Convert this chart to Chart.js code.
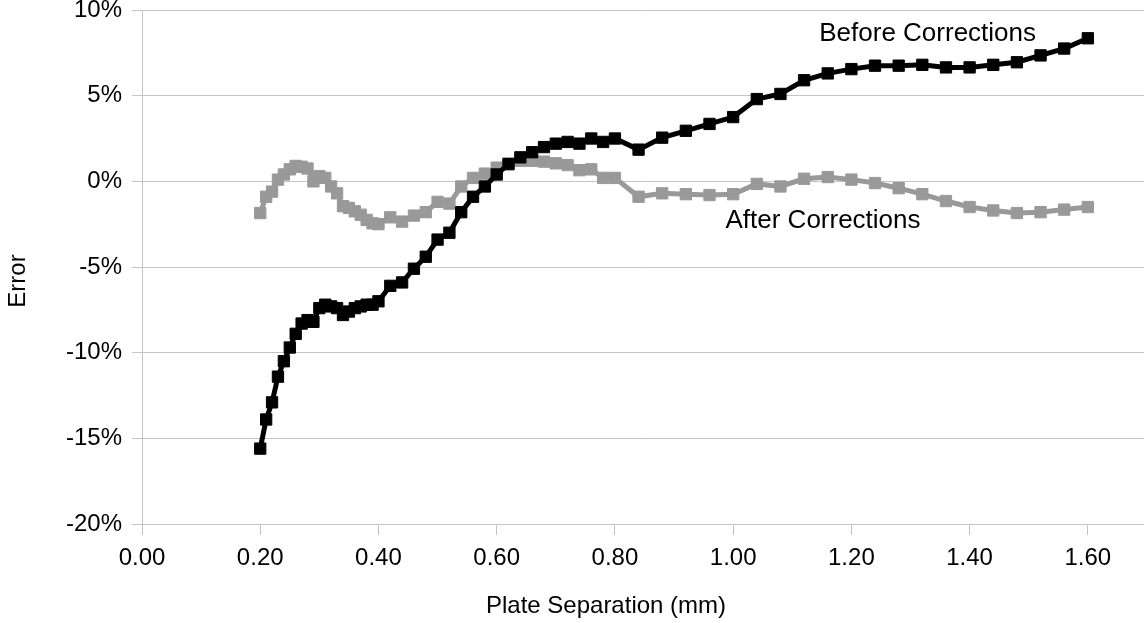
<!DOCTYPE html>
<html>
<head>
<meta charset="utf-8">
<title>Plate separation error</title>
<script src="https://cdn.jsdelivr.net/npm/chart.js@4/dist/chart.umd.min.js"></script>
<style>
  html, body { margin: 0; padding: 0; background: #fff; }
  #wrap { width: 1144px; height: 623px; }
</style>
</head>
<body>
<div id="wrap"><canvas id="errChart" width="1144" height="623"></canvas></div>
<script>
// plate separation (mm)
var separation = [
  0.20, 0.21, 0.22, 0.23, 0.24, 0.25, 0.26, 0.27, 0.28, 0.29,
  0.30, 0.31, 0.32, 0.33, 0.34, 0.35, 0.36, 0.37, 0.38, 0.39,
  0.40, 0.42, 0.44, 0.46, 0.48, 0.50, 0.52, 0.54, 0.56, 0.58,
  0.60, 0.62, 0.64, 0.66, 0.68, 0.70, 0.72, 0.74, 0.76, 0.78,
  0.80, 0.84, 0.88, 0.92, 0.96, 1.00, 1.04, 1.08, 1.12, 1.16,
  1.20, 1.24, 1.28, 1.32, 1.36, 1.40, 1.44, 1.48, 1.52, 1.56,
  1.60
];

// error in percent
var beforeCorr = [
  -15.6, -13.9, -12.9, -11.4, -10.5, -9.7, -8.9, -8.3, -8.1, -8.2,
  -7.4, -7.2, -7.3, -7.4, -7.8, -7.6, -7.4, -7.3, -7.2, -7.2,
  -7.0, -6.1, -5.9, -5.1, -4.4, -3.4, -3.0, -1.8, -0.9, -0.3,
  0.4, 1.0, 1.4, 1.7, 2.0, 2.2, 2.3, 2.2, 2.5, 2.3,
  2.5, 1.85, 2.55, 2.95, 3.35, 3.75, 4.8, 5.1, 5.9, 6.3,
  6.55, 6.75, 6.75, 6.8, 6.65, 6.65, 6.8, 6.95, 7.35, 7.75,
  8.35
];

var afterCorr = [
  -1.85, -0.9, -0.6, 0.1, 0.4, 0.7, 0.9, 0.85, 0.75, 0.0,
  0.3, 0.2, -0.3, -0.7, -1.45, -1.55, -1.75, -1.95, -2.25, -2.45,
  -2.5, -2.1, -2.35, -2.0, -1.8, -1.2, -1.3, -0.3, 0.2, 0.45,
  0.8, 1.05, 1.2, 1.2, 1.15, 1.05, 0.95, 0.65, 0.7, 0.2,
  0.2, -0.9, -0.7, -0.75, -0.8, -0.75, -0.15, -0.3, 0.15, 0.25,
  0.1, -0.1, -0.4, -0.75, -1.15, -1.5, -1.7, -1.85, -1.8, -1.65,
  -1.5
];

// tick values
var xTicks = [0, 0.2, 0.4, 0.6, 0.8, 1.0, 1.2, 1.4, 1.6];
var yTicks = [-20, -15, -10, -5, 0, 5, 10];

var seriesNames = ['Before Corrections', 'After Corrections'];
var xTitle = 'Plate Separation (mm)';
var yTitle = 'Error';
// where the series names sit, in data units
var labelSpots = [[1.329, 8.6], [1.152, -2.3]];

var gridGray = '#c4c4c4';
var fontFam = '"Liberation Sans", Arial, sans-serif';

function toPoints(ys) {
  return separation.map(function(x, i) { return { x: x, y: ys[i] }; });
}

// writes the series names and the axis titles
var chartTexts = {
  id: 'chartTexts',
  afterDraw: function(chart) {
    var ctx = chart.ctx;
    var xs = chart.scales.x, ys = chart.scales.y;
    ctx.save();
    ctx.fillStyle = '#000';
    ctx.textAlign = 'center';
    ctx.textBaseline = 'middle';
    ctx.font = '26px ' + fontFam;
    seriesNames.forEach(function(name, i) {
      ctx.fillText(name, xs.getPixelForValue(labelSpots[i][0]), ys.getPixelForValue(labelSpots[i][1]));
    });
    ctx.font = '24px ' + fontFam;
    ctx.fillText(xTitle, 606, 606);
    ctx.translate(18, 281);
    ctx.rotate(-Math.PI / 2);
    ctx.fillText(yTitle, 0, 0);
    ctx.restore();
  }
};

window.onload = function() {
  var ctx = document.getElementById('errChart').getContext('2d');

  var errChart = new Chart(ctx, {
    type: 'line',
    data: {
      datasets: [{
        label: seriesNames[0],
        data: toPoints(beforeCorr),
        borderColor: '#000000',
        backgroundColor: '#000000',
        borderWidth: 5,
        pointStyle: 'rect',
        pointRadius: 8,
        pointBorderWidth: 1,
        tension: 0,
        order: 0
      }, {
        label: seriesNames[1],
        data: toPoints(afterCorr),
        borderColor: '#999999',
        backgroundColor: '#999999',
        borderWidth: 5,
        pointStyle: 'rect',
        pointRadius: 8,
        pointBorderWidth: 1,
        tension: 0,
        order: 1
      }]
    },
    options: {
      responsive: false,
      animation: false,
      devicePixelRatio: 1,
      layout: { padding: 0, autoPadding: false },
      plugins: {
        legend: { display: false },
        tooltip: { enabled: false }
      },
      scales: {
        x: {
          type: 'linear',
          min: 0,
          max: 1.695,
          afterBuildTicks: function(scale) {
            scale.ticks = xTicks.map(function(v) { return { value: v }; });
          },
          afterFit: function(scale) {
            scale.height = 99;
            scale.paddingLeft = 0;
            scale.paddingRight = 0;
          },
          ticks: {
            padding: 9,
            color: '#000',
            font: { family: fontFam, size: 24 },
            maxRotation: 0,
            autoSkip: false,
            callback: function(v) { return Number(v).toFixed(2); }
          },
          grid: {
            drawOnChartArea: false,
            drawTicks: true,
            tickLength: 11,
            color: gridGray
          },
          border: { color: gridGray, width: 1 }
        },
        y: {
          min: -20,
          max: 10,
          afterBuildTicks: function(scale) {
            scale.ticks = yTicks.map(function(v) { return { value: v }; });
          },
          afterFit: function(scale) {
            scale.width = 142;
            scale.paddingTop = 10;
            scale.paddingBottom = 0;
          },
          ticks: {
            padding: 10,
            color: '#000',
            font: { family: fontFam, size: 24 },
            callback: function(v) { return v + '%'; }
          },
          grid: {
            color: gridGray,
            tickLength: 10
          },
          border: { color: gridGray, width: 1 }
        }
      }
    },
    plugins: [chartTexts]
  });
};
</script>
</body>
</html>
